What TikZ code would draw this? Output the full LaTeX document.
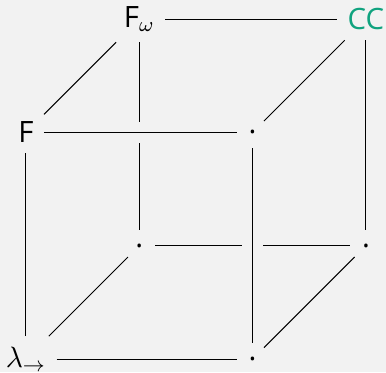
\documentclass[tikz,border=0pt]{standalone}
\usepackage{fix-cm}
\usepackage{fontspec}
\setmainfont{Open Sans}
\usepackage{xcolor}
\definecolor{paper}{HTML}{F2F2F2}
\definecolor{ccgreen}{HTML}{10A37F}

\begin{document}
\begin{tikzpicture}[x=1.6cm, y=1.6cm, line width=0.4pt,
  sys/.style={font=\fontsize{11.8}{14}\selectfont, inner sep=4pt},
  corner/.style={circle, inner sep=0pt, minimum size=12.5pt, font=\fontsize{11.8}{14}\selectfont},
  front/.style={preaction={draw=paper, line width=8.4pt}}]
  \fill[paper] (-0.229,-0.115) rectangle (3.177,3.168);
  \useasboundingbox (-0.229,-0.115) rectangle (3.177,3.168);

  % the eight systems
  \node[sys] (lam) at (0,0) {$\lambda_{\to}$};
  \node[sys] (F) at (0,2) {F};
  \node[sys] (Fw) at (1,3) {F$_{\omega}$};
  \node[sys, text=ccgreen] (CC) at (3,3) {CC};
  \node[corner] (lP) at (2,0) {.};
  \node[corner] (lP2) at (2,2) {.};
  \node[corner] (lw) at (1,1) {.};
  \node[corner] (lPw) at (3,1) {.};

  % back edges
  \draw (Fw) -- (CC);
  \draw (Fw) -- (lw);
  \draw (lw) -- (lPw);
  \draw (CC) -- (lPw);
  % depth edges
  \draw (F) -- (Fw);
  \draw (lP2) -- (CC);
  \draw (lam) -- (lw);
  \draw (lP) -- (lPw);
  % front edges
  \draw[front] (lam) -- (F);
  \draw[front] (F) -- (lP2);
  \draw[front] (lP2) -- (lP);
  \draw[front] (lam) -- (lP);
\end{tikzpicture}
\end{document}
